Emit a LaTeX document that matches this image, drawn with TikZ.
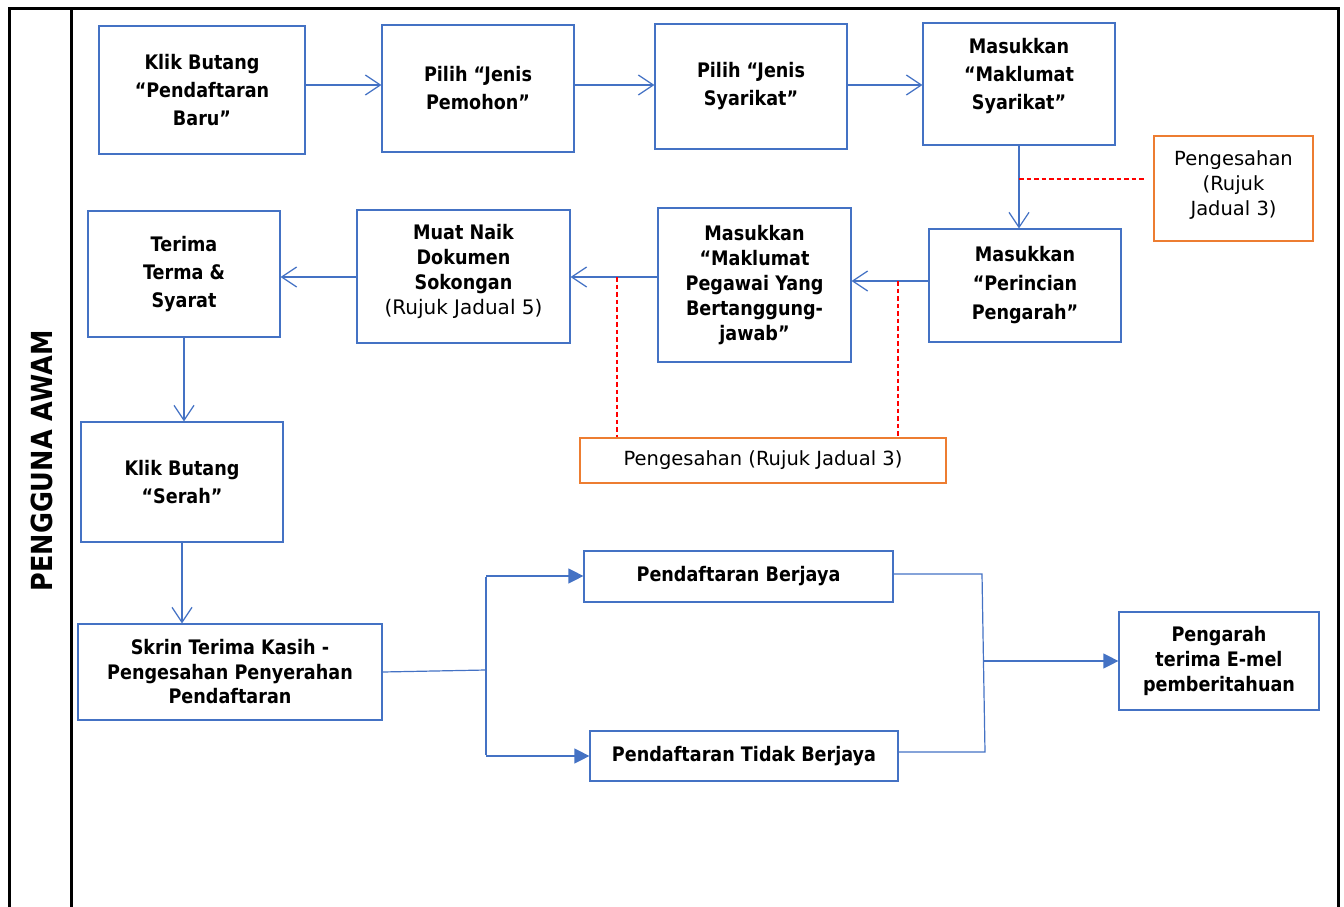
\documentclass[tikz,border=0pt]{standalone}
\usepackage{fontspec}
\setmainfont{DejaVu Sans}[BoldFeatures={FakeStretch=0.88}]
\usetikzlibrary{arrows.meta}
\definecolor{boxblue}{HTML}{4472C4}
\definecolor{boxorange}{HTML}{ED7D31}
\begin{document}
\begin{tikzpicture}[x=1pt,y=-1pt,
  box/.style={draw=boxblue, line width=1.2pt, inner sep=2pt, align=center, text=black,
    font=\bfseries\fontsize{20}{28}\selectfont},
  boxt/.style={box, font=\bfseries\fontsize{20}{25}\selectfont},
  obox/.style={draw=boxorange, line width=1.2pt, inner sep=2pt, align=center, text=black,
    font=\fontsize{19.5}{25}\selectfont},
  conn/.style={draw=boxblue, line width=1.2pt},
  arr/.style={conn, -{Straight Barb[length=15pt,width=20pt]}},
  tri/.style={conn, -{Triangle[length=15pt,width=15pt]}},
  rdash/.style={draw=red, line width=1.3pt, dash pattern=on 4.5pt off 3pt},
  frame/.style={draw=black, line width=3pt}]
\useasboundingbox (0,0) rectangle (1344,907);
% frame
\draw[frame] (9,920) -- (9,9) -- (1338,9) -- (1338,920);
\draw[frame] (71,9) -- (71,920);
\node[rotate=90, font=\bfseries\fontsize{29}{30}\selectfont] (lane) at (42,461) {PENGGUNA AWAM};
% nodes
\node[box, minimum width=206pt, minimum height=128pt] (n1) at (202,90) {Klik Butang\\“Pendaftaran\\Baru”};
\node[box, minimum width=192pt, minimum height=127pt] (n2) at (478,88.5) {Pilih “Jenis\\Pemohon”};
\node[box, minimum width=192pt, minimum height=125pt] (n3) at (751,86.5) {Pilih “Jenis\\Syarikat”};
\node[box, minimum width=192pt, minimum height=122pt, text depth=20pt] (n4) at (1019,84) {Masukkan\\“Maklumat\\Syarikat”};
\node[obox, minimum width=159pt, minimum height=105pt, text depth=10pt] (n5) at (1233.5,188.5) {Pengesahan\\(Rujuk\\Jadual 3)};
\node[box, minimum width=192pt, minimum height=113pt, font=\bfseries\fontsize{20}{29}\selectfont] (n6) at (1025,285.5) {Masukkan\\“Perincian\\Pengarah”};
\node[boxt, minimum width=193pt, minimum height=154pt] (n7) at (754.5,285) {Masukkan\\“Maklumat\\Pegawai Yang\\Bertanggung-\\jawab”};
\node[boxt, minimum width=213pt, minimum height=133pt, text depth=14pt] (n8) at (463.5,276.5) {Muat Naik\\Dokumen\\Sokongan\\{\mdseries (Rujuk Jadual 5)}};
\node[box, minimum width=192pt, minimum height=126pt] (n9) at (184,274) {Terima\\Terma \&\\Syarat};
\node[obox, minimum width=366pt, minimum height=45pt] (n10) at (763,460.5) {Pengesahan (Rujuk Jadual 3)};
\node[box, minimum width=202pt, minimum height=120pt] (n11) at (182,482) {Klik Butang\\“Serah”};
\node[boxt, minimum width=304pt, minimum height=96pt, font=\bfseries\fontsize{20}{24.5}\selectfont] (n12) at (230,672) {Skrin Terima Kasih -\\Pengesahan Penyerahan\\Pendaftaran};
\node[box, minimum width=309pt, minimum height=51pt] (n13) at (738.5,576.5) {Pendaftaran Berjaya};
\node[box, minimum width=308pt, minimum height=50pt] (n14) at (744,756) {Pendaftaran Tidak Berjaya};
\node[boxt, minimum width=200pt, minimum height=98pt] (n15) at (1219,661) {Pengarah\\terima E-mel\\pemberitahuan};
% helper coordinates
\coordinate (y85) at (0,85);
\coordinate (y179) at (0,179);
\coordinate (y281) at (0,281);
\coordinate (y277) at (0,277);
\coordinate (d2) at (898,281);
\coordinate (d3) at (617,277);
\coordinate (fk) at (486,670);
\coordinate (fkt) at (486,576);
\coordinate (fkb) at (486,756);
\coordinate (mgt) at (982,574);
\coordinate (mgb) at (985,752);
\coordinate (mgm) at (984,661);
% connectors
\draw[arr] (n1.east |- y85) -- (n2.west |- y85);
\draw[arr] (n2.east |- y85) -- (n3.west |- y85);
\draw[arr] (n3.east |- y85) -- (n4.west |- y85);
\draw[arr] (n4.south) -- (n4.south |- n6.north);
\draw[rdash] (n4.south |- y179) -- ([xshift=-7pt]n5.west |- y179);
\draw[arr] (n6.west |- y281) -- (n7.east |- y281);
\draw[rdash] (d2) -- (d2 |- n10.north);
\draw[arr] (n7.west |- y277) -- (n8.east |- y277);
\draw[rdash] (d3) -- (d3 |- n10.north);
\draw[arr] (n8.west |- y277) -- (n9.east |- y277);
\draw[arr] (n9.south) -- (n9.south |- n11.north);
\draw[arr] (n11.south) -- (n11.south |- n12.north);
\draw[conn] (n12.east) -- (fk);
\draw[conn] ([yshift=-1pt]fkt) -- ([yshift=1pt]fkb);
\draw[tri] (fkt) -- (fkt -| n13.west);
\draw[tri] (fkb) -- (fkb -| n14.west);
\draw[conn] (n13.east |- mgt) -- (mgt) -- (mgb) -- (n14.east |- mgb);
\draw[tri] (mgm) -- (n15.west |- mgm);
\end{tikzpicture}
\end{document}
